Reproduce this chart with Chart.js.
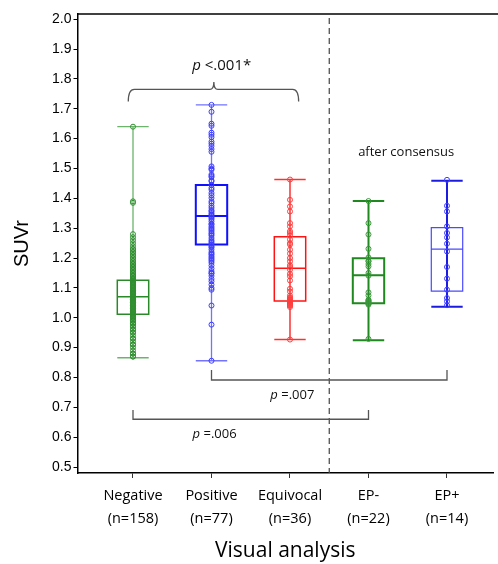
<!DOCTYPE html>
<html>
<head>
<meta charset="utf-8">
<title>SUVr by visual analysis</title>
<script src="https://cdn.jsdelivr.net/npm/chart.js@4.4.1/dist/chart.umd.min.js"></script>
<style>
	html, body { margin: 0; padding: 0; background: #fff; overflow: hidden; }
	canvas { display: block; }
</style>
</head>
<body>
<canvas id="BoxChart" width="498" height="564" style="width:498px;height:564px"></canvas>
<script>
// groups along the x axis
const groups = ["Negative", "Positive", "Equivocal", "EP-", "EP+"];
const counts = [158, 77, 36, 22, 14];
const yTicks = [0.5, 0.6, 0.7, 0.8, 0.9, 1.0, 1.1, 1.2, 1.3, 1.4, 1.5, 1.6, 1.7, 1.8, 1.9, 2.0];

// box statistics, one entry per group
const whiskerLow = [0.866, 0.856, 0.927, 0.925, 1.037];
const q1 = [1.012, 1.245, 1.056, 1.049, 1.089];
const median = [1.070, 1.341, 1.166, 1.142, 1.230];
const q3 = [1.126, 1.445, 1.271, 1.199, 1.302];
const whiskerHigh = [1.640, 1.713, 1.463, 1.391, 1.459];

// individual SUVr values
const negativeValues = [
	0.87, 0.87, 0.88, 0.88, 0.89, 0.90, 0.91, 0.91, 0.92, 0.93,
	0.93, 0.94, 0.95, 0.95, 0.96, 0.96, 0.97, 0.97, 0.98, 0.98,
	0.98, 0.99, 0.99, 0.99, 1.00, 1.00, 1.00, 1.00, 1.01, 1.01,
	1.01, 1.01, 1.02, 1.02, 1.02, 1.02, 1.02, 1.03, 1.03, 1.03,
	1.03, 1.03, 1.03, 1.04, 1.04, 1.04, 1.04, 1.04, 1.04, 1.05,
	1.05, 1.05, 1.05, 1.05, 1.05, 1.05, 1.06, 1.06, 1.06, 1.06,
	1.06, 1.06, 1.06, 1.06, 1.07, 1.07, 1.07, 1.07, 1.07, 1.07,
	1.07, 1.07, 1.07, 1.08, 1.08, 1.08, 1.08, 1.08, 1.08, 1.08,
	1.08, 1.09, 1.09, 1.09, 1.09, 1.09, 1.09, 1.09, 1.10, 1.10,
	1.10, 1.10, 1.10, 1.10, 1.10, 1.11, 1.11, 1.11, 1.11, 1.11,
	1.11, 1.12, 1.12, 1.12, 1.12, 1.12, 1.13, 1.13, 1.13, 1.13,
	1.14, 1.14, 1.14, 1.14, 1.15, 1.15, 1.15, 1.16, 1.16, 1.16,
	1.17, 1.17, 1.17, 1.18, 1.18, 1.18, 1.19, 1.19, 1.20, 1.20,
	1.21, 1.21, 1.22, 1.22, 1.23, 1.23, 1.24, 1.25, 1.26, 1.27,
	1.28, 1.385, 1.39, 1.64, 0.995, 1.015, 1.035, 1.055, 1.065, 1.075,
	1.085, 1.095, 1.105, 1.115, 1.125, 1.045, 1.025, 1.005
];
const positiveValues = [
	1.713, 1.69, 1.65, 1.643, 1.613, 1.605, 1.59, 1.583, 1.565, 1.556,
	1.507, 1.496, 1.471, 1.457, 1.429, 1.418, 1.401, 1.384, 1.368, 1.356,
	1.34, 1.323, 1.312, 1.295, 1.284, 1.267, 1.25, 1.239, 1.228, 1.211,
	1.2, 1.184, 1.156, 1.148, 1.122, 1.111, 1.10, 1.094, 1.041, 0.977,
	0.856, 1.62, 1.575, 1.475, 1.50, 1.48, 1.445, 1.435, 1.41, 1.39,
	1.375, 1.36, 1.35, 1.33, 1.315, 1.30, 1.29, 1.275, 1.26, 1.245,
	1.22, 1.205, 1.19, 1.175, 1.165, 1.15, 1.14, 1.13, 1.46, 1.345,
	1.335, 1.305, 1.28, 1.255, 1.235, 1.215, 1.195
];
const equivocalValues = [
	1.463, 1.395, 1.373, 1.356, 1.317, 1.306, 1.284, 1.276, 1.262, 1.245,
	1.228, 1.215, 1.2, 1.189, 1.176, 1.161, 1.147, 1.139, 1.125, 1.097,
	1.088, 1.074, 1.068, 1.061, 1.054, 1.047, 1.041, 1.036, 0.927, 1.29,
	1.25, 1.17, 1.065, 1.05, 1.058, 1.044
];
const epNegValues = [
	1.391, 1.317, 1.279, 1.231, 1.202, 1.189, 1.18, 1.172, 1.15, 1.141,
	1.085, 1.075, 1.058, 1.053, 1.049, 1.044, 0.929, 1.05, 1.055, 1.047,
	1.19, 1.06
];
const epPosValues = [1.462, 1.375, 1.356, 1.306, 1.284, 1.269, 1.248, 1.222, 1.17, 1.131, 1.094, 1.066, 1.055, 1.042];
const groupValues = [negativeValues, positiveValues, equivocalValues, epNegValues, epPosValues];

const boxColors = ["#2a8a2a", "#1010ff", "#ff1414", "#1f881f", "#4a4aff"];
const whiskerColors = ["#6cb36c", "#7373ff", "#ff3030", "#1f881f", "#1c1ce0"];
const pointColors = ["#2f8f2f", "#3c3cff", "#ff3c3c", "#3a963a", "#3c3cff"];
const boxWidths = [1.5, 2, 1.5, 2, 1.2];
const whiskerWidths = [1.3, 1.3, 1.5, 2, 2];
const BOX_HALF = 0.2;

// annotation marks (x in group units, y in SUVr)
const brackets = [
	{ x1: 2, x2: 5, y: 0.7915, tip: 0.825, label: " =.007", lx: 3.03, ly: 0.741 },
	{ x1: 1, x2: 4, y: 0.660, tip: 0.691, label: " =.006", lx: 2.04, ly: 0.610 }
];
const brace = { x1: 0.94, x2: 3.11, xMid: 2.03, y: 1.765, end: 1.724, peak: 1.790, label: " <.001*", lx: 2.13, ly: 1.843 };

function drawP(ctx, text, px, py, size) {
	ctx.font = "italic " + size + "px 'Open Sans'";
	const w1 = ctx.measureText("p").width;
	ctx.font = size + "px 'Open Sans'";
	const w2 = ctx.measureText(text).width;
	const left = px - (w1 + w2) / 2;
	ctx.textAlign = "left";
	ctx.textBaseline = "middle";
	ctx.fillStyle = "#111";
	ctx.font = "italic " + size + "px 'Open Sans'";
	ctx.fillText("p", left, py);
	ctx.font = size + "px 'Open Sans'";
	ctx.fillText(text, left + w1, py);
}

const boxPlugin = {
	id: "boxes",
	beforeDatasetsDraw(chart) {
		const ctx = chart.ctx, xs = chart.scales.x, ys = chart.scales.y;
		ctx.save();
		groups.forEach(function(g, i) {
			const cx = xs.getPixelForValue(i + 1);
			const l = xs.getPixelForValue(i + 1 - BOX_HALF), r = xs.getPixelForValue(i + 1 + BOX_HALF);
			// whisker + caps
			ctx.strokeStyle = whiskerColors[i];
			ctx.lineWidth = whiskerWidths[i];
			ctx.beginPath();
			ctx.moveTo(cx, ys.getPixelForValue(whiskerLow[i]));
			ctx.lineTo(cx, ys.getPixelForValue(whiskerHigh[i]));
			ctx.moveTo(l, ys.getPixelForValue(whiskerLow[i]));
			ctx.lineTo(r, ys.getPixelForValue(whiskerLow[i]));
			ctx.moveTo(l, ys.getPixelForValue(whiskerHigh[i]));
			ctx.lineTo(r, ys.getPixelForValue(whiskerHigh[i]));
			ctx.stroke();
			// box + median
			ctx.strokeStyle = boxColors[i];
			ctx.lineWidth = boxWidths[i];
			const top = ys.getPixelForValue(q3[i]), bot = ys.getPixelForValue(q1[i]);
			ctx.beginPath();
			ctx.rect(l, top, r - l, bot - top);
			ctx.moveTo(l, ys.getPixelForValue(median[i]));
			ctx.lineTo(r, ys.getPixelForValue(median[i]));
			ctx.stroke();
		});
		ctx.restore();
	}
};

const notesPlugin = {
	id: "notes",
	afterDatasetsDraw(chart) {
		const ctx = chart.ctx, xs = chart.scales.x, ys = chart.scales.y, a = chart.chartArea;
		ctx.save();
		// top frame line
		ctx.strokeStyle = "#000";
		ctx.lineWidth = 1.5;
		ctx.beginPath();
		ctx.moveTo(a.left, a.top);
		ctx.lineTo(chart.width, a.top);
		ctx.stroke();
		// dashed separator
		ctx.strokeStyle = "#444";
		ctx.lineWidth = 1.2;
		ctx.setLineDash([6, 4]);
		ctx.beginPath();
		ctx.moveTo(xs.getPixelForValue(3.5), a.top + 4);
		ctx.lineTo(xs.getPixelForValue(3.5), a.bottom);
		ctx.stroke();
		ctx.setLineDash([]);
		// square brackets
		ctx.strokeStyle = "#555";
		ctx.lineWidth = 1.3;
		brackets.forEach(function(b) {
			const x1 = xs.getPixelForValue(b.x1), x2 = xs.getPixelForValue(b.x2);
			const y = ys.getPixelForValue(b.y), t = ys.getPixelForValue(b.tip);
			ctx.beginPath();
			ctx.moveTo(x1, t);
			ctx.lineTo(x1, y);
			ctx.lineTo(x2, y);
			ctx.lineTo(x2, t);
			ctx.stroke();
			drawP(ctx, b.label, xs.getPixelForValue(b.lx), ys.getPixelForValue(b.ly), 13);
		});
		// curly brace
		const bx1 = xs.getPixelForValue(brace.x1), bx2 = xs.getPixelForValue(brace.x2), bm = xs.getPixelForValue(brace.xMid);
		const by = ys.getPixelForValue(brace.y), be = ys.getPixelForValue(brace.end), bp = ys.getPixelForValue(brace.peak);
		ctx.beginPath();
		ctx.moveTo(bx1, be);
		ctx.quadraticCurveTo(bx1, by, bx1 + 6, by);
		ctx.lineTo(bm - 4, by);
		ctx.quadraticCurveTo(bm, by, bm, bp);
		ctx.quadraticCurveTo(bm, by, bm + 4, by);
		ctx.lineTo(bx2 - 6, by);
		ctx.quadraticCurveTo(bx2, by, bx2, be);
		ctx.stroke();
		drawP(ctx, brace.label, xs.getPixelForValue(brace.lx), ys.getPixelForValue(brace.ly), 15);
		// group note
		ctx.font = "13px 'Open Sans'";
		ctx.fillStyle = "#111";
		ctx.textAlign = "center";
		ctx.textBaseline = "middle";
		ctx.fillText("after consensus", xs.getPixelForValue(4.48), ys.getPixelForValue(1.555));
		ctx.restore();
	}
};

new Chart(document.getElementById("BoxChart").getContext("2d"), {
	type: "scatter",
	data: {
		datasets: groups.map(function(g, i) {
			return {
				label: g,
				data: groupValues[i].map(function(v) { return { x: i + 1, y: v }; }),
				pointStyle: "circle",
				pointRadius: 2.5,
				borderWidth: 1,
				borderColor: pointColors[i],
				backgroundColor: "rgba(255,255,255,0)"
			};
		})
	},
	options: {
		responsive: false,
		animation: false,
		events: [],
		layout: { padding: { left: 4, top: 14, right: 0, bottom: 0 } },
		plugins: { legend: { display: false }, tooltip: { enabled: false } },
		scales: {
			x: {
				type: "linear",
				min: 0.293,
				max: 5.586,
				afterFit: function(s) { s.height = 91; },
				afterBuildTicks: function(s) { s.ticks = groups.map(function(g, i) { return { value: i + 1 }; }); },
				grid: { display: true, drawOnChartArea: false, drawTicks: true, tickLength: 5, color: "#333" },
				border: { display: true, color: "#000", width: 1.5 },
				ticks: {
					padding: 7,
					maxRotation: 0,
					autoSkip: false,
					color: "#000",
					font: { family: "'Open Sans'", size: 14.5, lineHeight: 1.55 },
					callback: function(v) {
						const i = Math.round(v) - 1;
						return [groups[i], "(n=" + counts[i] + ")"];
					}
				},
				title: {
					display: true,
					text: "Visual analysis",
					color: "#000",
					font: { family: "'Open Sans'", size: 21, lineHeight: 1.2 },
					padding: { top: 0, bottom: 0 }
				}
			},
			y: {
				min: 0.48,
				max: 2.0175,
				afterFit: function(s) { s.width = 73.5; },
				afterBuildTicks: function(s) { s.ticks = yTicks.map(function(v) { return { value: v }; }); },
				grid: { display: true, drawOnChartArea: false, drawTicks: true, tickLength: 4, color: "#000" },
				border: { display: true, color: "#000", width: 1.5 },
				ticks: {
					padding: 2,
					color: "#000",
					font: { family: "'Liberation Sans'", size: 14 },
					callback: function(v) { return v.toFixed(1); }
				},
				title: {
					display: true,
					text: "SUVr",
					color: "#000",
					font: { family: "'Liberation Sans'", size: 20, lineHeight: 1.2 },
					padding: { top: 6, bottom: 0 }
				}
			}
		}
	},
	plugins: [boxPlugin, notesPlugin]
});
</script>
</body>
</html>
